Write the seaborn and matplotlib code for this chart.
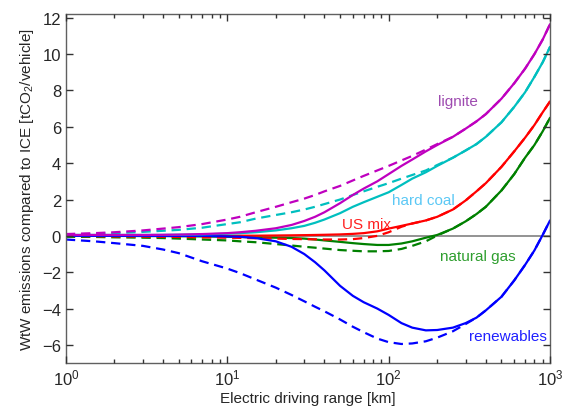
import matplotlib
matplotlib.use("Agg")
import matplotlib.pyplot as plt
import seaborn as sns

sns.set_style("ticks")
plt.rcParams["font.family"] = ["Liberation Sans", "DejaVu Sans"]
plt.rcParams["mathtext.fontset"] = "custom"
plt.rcParams["mathtext.rm"] = "Liberation Sans"

# electric driving range [km]
range_km = [1, 1.5, 2, 3, 4, 5, 7, 10, 12, 15, 20, 25, 30, 35, 40, 50, 60, 70, 85,
            100, 120, 140, 170, 200, 250, 300, 350, 400, 500, 600, 700, 800, 900, 1000]

# WtW emissions compared to ICE [tCO2/vehicle]; solid and dashed variants
lignite_solid = [0.05, 0.05, 0.05, 0.05, 0.06, 0.07, 0.1, 0.15, 0.2, 0.28, 0.42, 0.6, 0.82, 1.05,
                 1.3, 1.8, 2.25, 2.6, 3.0, 3.4, 3.85, 4.2, 4.65, 5.0, 5.45, 5.9, 6.3, 6.7,
                 7.55, 8.4, 9.2, 10.0, 10.8, 11.65]
lignite_dash = [0.1, 0.15, 0.2, 0.3, 0.4, 0.48, 0.65, 0.9, 1.05, 1.3, 1.6, 1.85, 2.05, 2.25,
                2.45, 2.75, 3.05, 3.3, 3.6, 3.85, 4.15, 4.4, 4.75, 5.05, 5.45, 5.9, 6.3, 6.7,
                7.55, 8.4, 9.2, 10.0, 10.8, 11.65]
coal_solid = [0.05, 0.05, 0.05, 0.05, 0.05, 0.06, 0.08, 0.12, 0.15, 0.2, 0.3, 0.42, 0.55, 0.72,
              0.9, 1.25, 1.6, 1.85, 2.15, 2.4, 2.8, 3.15, 3.5, 3.85, 4.3, 4.7, 5.05, 5.45,
              6.25, 7.1, 7.9, 8.75, 9.55, 10.4]
coal_dash = [0.05, 0.1, 0.15, 0.22, 0.28, 0.33, 0.45, 0.65, 0.75, 0.95, 1.15, 1.3, 1.45, 1.6,
             1.75, 2.0, 2.25, 2.45, 2.7, 2.9, 3.15, 3.35, 3.6, 3.9, 4.3, 4.7, 5.05, 5.45,
             6.25, 7.1, 7.9, 8.75, 9.55, 10.4]
us_solid = [0, 0, 0, 0, 0, 0, 0, 0, 0.01, 0.01, 0.02, 0.03, 0.04, 0.05,
            0.06, 0.08, 0.11, 0.15, 0.25, 0.4, 0.55, 0.68, 0.85, 1.05, 1.45, 1.95, 2.45, 2.9,
            3.8, 4.65, 5.4, 6.1, 6.8, 7.4]
us_dash = [0, -0.02, -0.03, -0.04, -0.05, -0.06, -0.08, -0.1, -0.11, -0.13, -0.15, -0.17, -0.18, -0.19,
           -0.2, -0.2, -0.18, -0.12, 0.0, 0.2, 0.5, 0.68, 0.85, 1.05, 1.45, 1.95, 2.45, 2.9,
           3.8, 4.65, 5.4, 6.1, 6.8, 7.4]
gas_solid = [0, 0, 0, -0.01, -0.01, -0.02, -0.03, -0.05, -0.06, -0.08, -0.1, -0.12, -0.15, -0.2,
             -0.25, -0.33, -0.4, -0.45, -0.5, -0.5, -0.42, -0.3, -0.1, 0.05, 0.4, 0.8, 1.2, 1.6,
             2.5, 3.4, 4.3, 5.0, 5.75, 6.5]
gas_dash = [-0.05, -0.06, -0.08, -0.1, -0.12, -0.15, -0.2, -0.25, -0.3, -0.35, -0.45, -0.53, -0.6, -0.65,
            -0.7, -0.78, -0.82, -0.85, -0.85, -0.83, -0.72, -0.55, -0.3, 0.02, 0.4, 0.8, 1.2, 1.6,
            2.5, 3.4, 4.3, 5.0, 5.75, 6.5]
renew_solid = [0, 0, 0, 0, 0, 0, 0, -0.03, -0.05, -0.12, -0.3, -0.6, -1.0, -1.45,
               -1.9, -2.75, -3.3, -3.65, -4.0, -4.35, -4.8, -5.05, -5.2, -5.18, -5.05, -4.8, -4.5, -4.1,
               -3.35, -2.45, -1.6, -0.8, 0.05, 0.85]
renew_dash = [-0.2, -0.3, -0.4, -0.55, -0.75, -0.95, -1.4, -1.8, -2.05, -2.4, -2.85, -3.25, -3.6, -3.9,
              -4.15, -4.6, -5.0, -5.3, -5.65, -5.85, -5.95, -5.92, -5.8, -5.6, -5.25, -4.85, -4.5, -4.1,
              -3.35, -2.45, -1.6, -0.8, 0.05, 0.85]

fig = plt.figure(figsize=(5.63, 4.10), dpi=100)
ax = fig.add_axes([0.117, 0.112, 0.86, 0.851])
ax.axhline(0, color="#808080", lw=1.2, zorder=1)

series = [
    (gas_dash, gas_solid, "#008000"),
    (us_dash, us_solid, "#ff0000"),
    (renew_dash, renew_solid, "#0000ff"),
    (coal_dash, coal_solid, "#00bfbf"),
    (lignite_dash, lignite_solid, "#bf00bf"),
]
for dash, solid, col in series:
    sns.lineplot(x=range_km, y=dash, color=col, lw=1.6, ax=ax,
                 linestyle=(0, (4.2, 2.6)))
    sns.lineplot(x=range_km, y=solid, color=col, lw=1.6, ax=ax)

ax.set_xscale("log")
ax.set_xlim(1, 1000)
ax.set_ylim(-7, 12.2)
ax.set_yticks([-6, -4, -2, 0, 2, 4, 6, 8, 10, 12])

lab = dict(fontsize=11, ha="center", va="center")
ax.text(268, 7.4, "lignite", color="#9e4bb0", **lab)
ax.text(163, 2.0, "hard coal", color="#5bc8f5", **lab)
ax.text(73, 0.65, "US mix", color="#ff2020", **lab)
ax.text(357, -1.1, "natural gas", color="#2e9e2e", **lab)
ax.text(550, -5.5, "renewables", color="#2020ff", **lab)

ax.set_xlabel("Electric driving range [km]", fontsize=11, labelpad=2)
ax.set_ylabel("WtW emissions compared to ICE [tCO$_2$/vehicle]", fontsize=11, labelpad=4)
ax.set_axisbelow(False)
ax.tick_params(which="both", direction="in", bottom=True, left=True, top=True, right=True,
               labelsize=12, color="#333333", width=1.0)
ax.tick_params(which="major", length=5)
ax.tick_params(which="minor", length=3)
ax.tick_params(axis="y", which="minor", left=False, right=False)
for s in ax.spines.values():
    s.set_color("#606060")
    s.set_linewidth(1)

plt.savefig("out.png", dpi=100)
